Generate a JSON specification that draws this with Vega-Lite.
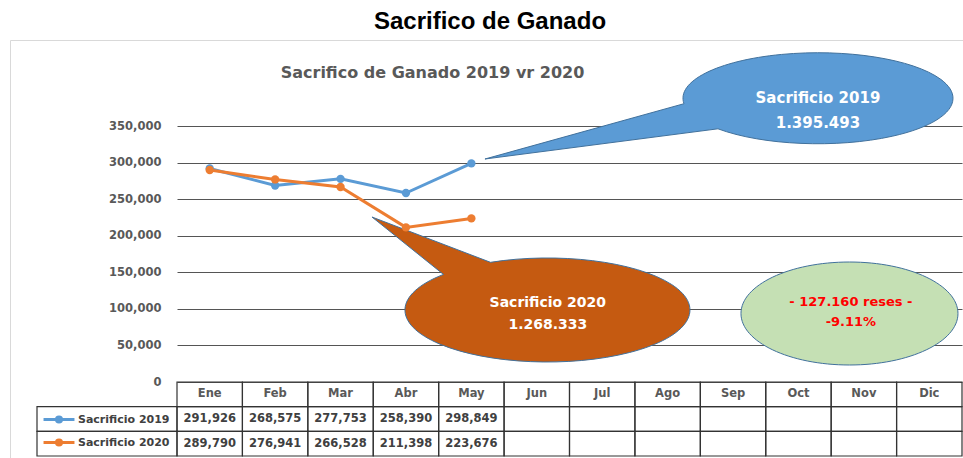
{
  "$schema": "https://vega.github.io/schema/vega-lite/v6.json",
  "width": 953,
  "height": 418,
  "autosize": {"type": "none"},
  "padding": {"left": 10, "top": 40, "right": 0, "bottom": 0},
  "background": "white",
  "title": {
    "text": "Sacrifico de Ganado",
    "font": "Liberation Sans",
    "fontSize": 24,
    "fontWeight": "bold",
    "color": "#000000",
    "anchor": "middle",
    "frame": "group",
    "baseline": "middle",
    "offset": -6,
    "dx": 3.5
  },
  "config": {
    "view": {"stroke": "#d9d9d9", "strokeWidth": 1},
    "font": "DejaVu Sans"
  },
  "datasets": {
    "sacrificio": [
      {"mes": "Ene", "serie": "Sacrificio 2019", "valor": 291926},
      {"mes": "Feb", "serie": "Sacrificio 2019", "valor": 268575},
      {"mes": "Mar", "serie": "Sacrificio 2019", "valor": 277753},
      {"mes": "Abr", "serie": "Sacrificio 2019", "valor": 258390},
      {"mes": "May", "serie": "Sacrificio 2019", "valor": 298849},
      {"mes": "Jun", "serie": "Sacrificio 2019", "valor": null},
      {"mes": "Jul", "serie": "Sacrificio 2019", "valor": null},
      {"mes": "Ago", "serie": "Sacrificio 2019", "valor": null},
      {"mes": "Sep", "serie": "Sacrificio 2019", "valor": null},
      {"mes": "Oct", "serie": "Sacrificio 2019", "valor": null},
      {"mes": "Nov", "serie": "Sacrificio 2019", "valor": null},
      {"mes": "Dic", "serie": "Sacrificio 2019", "valor": null},
      {"mes": "Ene", "serie": "Sacrificio 2020", "valor": 289790},
      {"mes": "Feb", "serie": "Sacrificio 2020", "valor": 276941},
      {"mes": "Mar", "serie": "Sacrificio 2020", "valor": 266528},
      {"mes": "Abr", "serie": "Sacrificio 2020", "valor": 211398},
      {"mes": "May", "serie": "Sacrificio 2020", "valor": 223676},
      {"mes": "Jun", "serie": "Sacrificio 2020", "valor": null},
      {"mes": "Jul", "serie": "Sacrificio 2020", "valor": null},
      {"mes": "Ago", "serie": "Sacrificio 2020", "valor": null},
      {"mes": "Sep", "serie": "Sacrificio 2020", "valor": null},
      {"mes": "Oct", "serie": "Sacrificio 2020", "valor": null},
      {"mes": "Nov", "serie": "Sacrificio 2020", "valor": null},
      {"mes": "Dic", "serie": "Sacrificio 2020", "valor": null}
    ]
  },
  "resolve": {
    "scale": {"x": "independent", "y": "independent"},
    "axis": {"x": "independent", "y": "independent"}
  },
  "layer": [
    {
      "data": {"name": "sacrificio"},
      "transform": [{"filter": "datum.mes == 'Ene'"}],
      "mark": {"type": "rect", "fill": "transparent", "stroke": "#333333", "strokeWidth": 1.2},
      "encoding": {
        "x": {"datum": "Serie", "type": "nominal", "scale": {"type": "band", "domain": ["Serie"], "range": [27, 167], "paddingInner": 0, "paddingOuter": 0}, "axis": null},
        "y": {"field": "serie", "type": "nominal", "scale": {"type": "band", "domain": ["Mes", "Sacrificio 2019", "Sacrificio 2020"], "range": [342, 416], "paddingInner": 0, "paddingOuter": 0}, "axis": null}
      }
    },
    {
      "data": {"name": "sacrificio"},
      "mark": {"type": "rect", "fill": "transparent", "stroke": "#333333", "strokeWidth": 1.2},
      "encoding": {
        "x": {"field": "mes", "type": "nominal", "scale": {"type": "band", "domain": ["Ene","Feb","Mar","Abr","May","Jun","Jul","Ago","Sep","Oct","Nov","Dic"], "range": [167, 952], "paddingInner": 0, "paddingOuter": 0}, "axis": null},
        "y": {"field": "serie", "type": "nominal", "scale": {"type": "band", "domain": ["Mes", "Sacrificio 2019", "Sacrificio 2020"], "range": [342, 416], "paddingInner": 0, "paddingOuter": 0}, "axis": null}
      }
    },
    {
      "data": {"name": "sacrificio"},
      "transform": [{"filter": "datum.serie == 'Sacrificio 2019'"}],
      "mark": {"type": "rect", "fill": "transparent", "stroke": "#333333", "strokeWidth": 1.2},
      "encoding": {
        "x": {"field": "mes", "type": "nominal", "scale": {"type": "band", "domain": ["Ene","Feb","Mar","Abr","May","Jun","Jul","Ago","Sep","Oct","Nov","Dic"], "range": [167, 952], "paddingInner": 0, "paddingOuter": 0}, "axis": null},
        "y": {"datum": "Mes", "type": "nominal", "scale": {"type": "band", "domain": ["Mes", "Sacrificio 2019", "Sacrificio 2020"], "range": [342, 416], "paddingInner": 0, "paddingOuter": 0}, "axis": null}
      }
    },
    {
      "data": {"values": [{"nota": "Sacrificio 2019", "mes": "Oct", "posicion": 388000}]},
      "mark": {"type": "point", "shape": "M-114.5,5.5L-313.5,60.8L-80.5,30.6A135,45.5,0,1,0,-114.5,5.5Z", "size": 4, "filled": true, "fill": "#5B9BD5", "stroke": "#41719C", "strokeWidth": 1, "opacity": 1},
      "encoding": {
        "x": {"field": "mes", "type": "nominal", "scale": {"type": "band", "domain": ["Ene","Feb","Mar","Abr","May","Jun","Jul","Ago","Sep","Oct","Nov","Dic"], "range": [167, 952], "paddingInner": 0, "paddingOuter": 0}, "axis": null},
        "y": {"field": "posicion", "type": "quantitative", "scale": {"domain": [0, 350000], "range": [342, 86], "nice": false, "zero": false}, "axis": null}
      }
    },
    {
      "data": {"values": [{"nota": "Sacrificio 2020", "mes": "Jun", "posicion": 98400}]},
      "mark": {"type": "point", "shape": "M-46.3,-47.7L-164.8,-93L-93.3,-35.6A142.5,52,0,1,0,-46.3,-47.7Z", "size": 4, "filled": true, "fill": "#C55A11", "stroke": "#41719C", "strokeWidth": 1, "opacity": 1},
      "encoding": {
        "x": {"field": "mes", "type": "nominal", "scale": {"type": "band", "domain": ["Ene","Feb","Mar","Abr","May","Jun","Jul","Ago","Sep","Oct","Nov","Dic"], "range": [167, 952], "paddingInner": 0, "paddingOuter": 0}, "axis": null},
        "y": {"field": "posicion", "type": "quantitative", "scale": {"domain": [0, 350000], "range": [342, 86], "nice": false, "zero": false}, "axis": null}
      }
    },
    {
      "data": {"values": [{"nota": "Diferencia", "mes": "Nov", "posicion": 93650}]},
      "mark": {"type": "point", "shape": "M-122.9,0A108.5,51.5,0,1,0,94.1,0A108.5,51.5,0,1,0,-122.9,0Z", "size": 4, "filled": true, "fill": "#C5E0B4", "stroke": "#41719C", "strokeWidth": 1, "opacity": 1},
      "encoding": {
        "x": {"field": "mes", "type": "nominal", "scale": {"type": "band", "domain": ["Ene","Feb","Mar","Abr","May","Jun","Jul","Ago","Sep","Oct","Nov","Dic"], "range": [167, 952], "paddingInner": 0, "paddingOuter": 0}, "axis": null},
        "y": {"field": "posicion", "type": "quantitative", "scale": {"domain": [0, 350000], "range": [342, 86], "nice": false, "zero": false}, "axis": null}
      }
    },
    {
      "data": {"values": [{"texto": "Sacrificio 2019\n1.395.493", "mes": "Oct", "posicion": 388000}]},
      "mark": {"type": "text", "lineBreak": "\n", "dx": 19.5, "dy": 0, "align": "center", "baseline": "middle", "fontSize": 15, "fontWeight": "bold", "lineHeight": 25, "fill": "#ffffff"},
      "encoding": {
        "x": {"field": "mes", "type": "nominal", "scale": {"type": "band", "domain": ["Ene","Feb","Mar","Abr","May","Jun","Jul","Ago","Sep","Oct","Nov","Dic"], "range": [167, 952], "paddingInner": 0, "paddingOuter": 0}, "axis": null},
        "y": {"field": "posicion", "type": "quantitative", "scale": {"domain": [0, 350000], "range": [342, 86], "nice": false, "zero": false}, "axis": null},
        "text": {"field": "texto"}
      }
    },
    {
      "data": {"values": [{"texto": "Sacrificio 2020\n1.268.333", "mes": "Jun", "posicion": 98400}]},
      "mark": {"type": "text", "lineBreak": "\n", "dx": 11, "dy": -7, "align": "center", "baseline": "middle", "fontSize": 14, "fontWeight": "bold", "lineHeight": 22, "fill": "#ffffff"},
      "encoding": {
        "x": {"field": "mes", "type": "nominal", "scale": {"type": "band", "domain": ["Ene","Feb","Mar","Abr","May","Jun","Jul","Ago","Sep","Oct","Nov","Dic"], "range": [167, 952], "paddingInner": 0, "paddingOuter": 0}, "axis": null},
        "y": {"field": "posicion", "type": "quantitative", "scale": {"domain": [0, 350000], "range": [342, 86], "nice": false, "zero": false}, "axis": null},
        "text": {"field": "texto"}
      }
    },
    {
      "data": {"values": [{"texto": "- 127.160  reses -\n-9.11%", "mes": "Nov", "posicion": 93650}]},
      "mark": {"type": "text", "lineBreak": "\n", "dx": -13, "dy": -12, "align": "center", "baseline": "middle", "fontSize": 13, "fontWeight": "bold", "lineHeight": 20, "fill": "#FF0000"},
      "encoding": {
        "x": {"field": "mes", "type": "nominal", "scale": {"type": "band", "domain": ["Ene","Feb","Mar","Abr","May","Jun","Jul","Ago","Sep","Oct","Nov","Dic"], "range": [167, 952], "paddingInner": 0, "paddingOuter": 0}, "axis": null},
        "y": {"field": "posicion", "type": "quantitative", "scale": {"domain": [0, 350000], "range": [342, 86], "nice": false, "zero": false}, "axis": null},
        "text": {"field": "texto"}
      }
    },
    {
      "data": {"name": "sacrificio"},
      "transform": [{"filter": "datum.valor != null"}],
      "mark": {"type": "line", "strokeWidth": 3, "point": {"filled": true, "size": 70, "opacity": 1}},
      "encoding": {
        "x": {
          "field": "mes", "type": "nominal",
          "scale": {"type": "band", "domain": ["Ene","Feb","Mar","Abr","May","Jun","Jul","Ago","Sep","Oct","Nov","Dic"], "range": [167, 952], "paddingInner": 0, "paddingOuter": 0},
          "axis": {"orient": "top", "title": "Sacrifico de Ganado 2019 vr  2020", "labels": false, "ticks": false, "domain": false, "grid": false, "titleX": 422, "titleY": 32, "titleAlign": "center", "titleBaseline": "middle", "titleFont": "DejaVu Sans", "titleFontSize": 16, "titleFontWeight": "bold", "titleColor": "#595959", "titlePadding": 0}
        },
        "y": {
          "field": "valor", "type": "quantitative",
          "scale": {"domain": [0, 350000], "range": [342, 86], "nice": false, "zero": false},
          "axis": {"orient": "left", "offset": -167, "values": [0, 50000, 100000, 150000, 200000, 250000, 300000, 350000], "format": ",d", "ticks": false, "tickSize": 0, "domain": false, "grid": true, "gridColor": "#555555", "gridWidth": 1, "labelPadding": 16, "labelFont": "DejaVu Sans", "labelFontSize": 11.5, "labelFontWeight": "bold", "labelColor": "#595959", "title": null}
        },
        "color": {
          "field": "serie", "type": "nominal",
          "scale": {"domain": ["Sacrificio 2019", "Sacrificio 2020"], "range": ["#5B9BD5", "#ED7D31"]},
          "legend": {
            "orient": "none", "legendX": 39, "legendY": 369.5, "title": null, "padding": 0,
            "symbolType": "M-1.82,0H1.82M-0.3,0A0.3,0.3,0,1,1,0.3,0A0.3,0.3,0,1,1,-0.3,0Z",
            "symbolSize": 289, "symbolStrokeWidth": 3, "symbolOpacity": 1,
            "labelFont": "DejaVu Sans", "labelFontSize": 11, "labelFontWeight": "bold", "labelColor": "#404040",
            "labelOffset": 9, "rowPadding": 4,
            "encode": {"symbols": {"update": {"fill": {"scale": "color", "field": "value"}, "stroke": {"scale": "color", "field": "value"}, "opacity": {"value": 1}}}}
          }
        }
      }
    },
    {
      "data": {"name": "sacrificio"},
      "transform": [{"filter": "datum.serie == 'Sacrificio 2019'"}],
      "mark": {"type": "text", "align": "center", "baseline": "middle", "fontSize": 11.5, "fontWeight": "bold", "fill": "#595959"},
      "encoding": {
        "x": {"field": "mes", "type": "nominal", "scale": {"type": "band", "domain": ["Ene","Feb","Mar","Abr","May","Jun","Jul","Ago","Sep","Oct","Nov","Dic"], "range": [167, 952], "paddingInner": 0, "paddingOuter": 0}, "axis": null},
        "y": {"datum": "Mes", "type": "nominal", "scale": {"type": "band", "domain": ["Mes", "Sacrificio 2019", "Sacrificio 2020"], "range": [342, 416], "paddingInner": 0, "paddingOuter": 0}, "axis": null},
        "text": {"field": "mes"}
      }
    },
    {
      "data": {"name": "sacrificio"},
      "transform": [{"filter": "datum.valor != null"}],
      "mark": {"type": "text", "align": "center", "baseline": "middle", "fontSize": 11.5, "fontWeight": "bold", "fill": "#404040"},
      "encoding": {
        "x": {"field": "mes", "type": "nominal", "scale": {"type": "band", "domain": ["Ene","Feb","Mar","Abr","May","Jun","Jul","Ago","Sep","Oct","Nov","Dic"], "range": [167, 952], "paddingInner": 0, "paddingOuter": 0}, "axis": null},
        "y": {"field": "serie", "type": "nominal", "scale": {"type": "band", "domain": ["Mes", "Sacrificio 2019", "Sacrificio 2020"], "range": [342, 416], "paddingInner": 0, "paddingOuter": 0}, "axis": null},
        "text": {"field": "valor", "format": ",d"}
      }
    }
  ]
}
